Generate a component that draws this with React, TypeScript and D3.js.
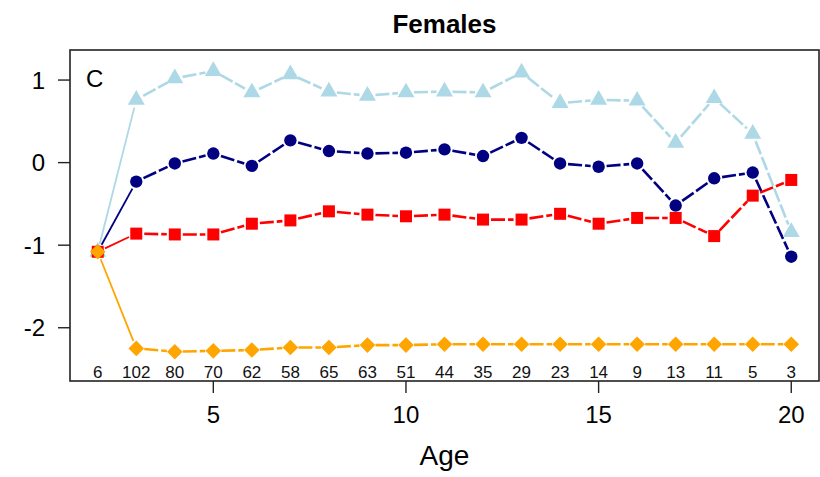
import React from "react";
import * as d3 from "d3";

const ages = [2, 3, 4, 5, 6, 7, 8, 9, 10, 11, 12, 13, 14, 15, 16, 17, 18, 19, 20];
const counts = ["6", "102", "80", "70", "62", "58", "65", "63", "51", "44", "35", "29", "23", "14", "9", "13", "11", "5", "3"];
const lightBlueValues = [-1.08, 0.76, 1.02, 1.11, 0.85, 1.07, 0.86, 0.81, 0.85, 0.86, 0.85, 1.09, 0.72, 0.76, 0.75, 0.24, 0.78, 0.35, -0.84];
const navyValues = [-1.08, -0.23, -0.01, 0.11, -0.04, 0.27, 0.14, 0.11, 0.12, 0.16, 0.08, 0.30, -0.01, -0.05, -0.01, -0.52, -0.19, -0.12, -1.14];
const redValues = [-1.08, -0.86, -0.87, -0.87, -0.74, -0.70, -0.59, -0.63, -0.65, -0.63, -0.69, -0.69, -0.62, -0.74, -0.67, -0.67, -0.89, -0.40, -0.21];
const orangeValues = [-1.08, -2.25, -2.29, -2.28, -2.27, -2.24, -2.24, -2.21, -2.21, -2.20, -2.20, -2.20, -2.20, -2.20, -2.20, -2.20, -2.20, -2.20, -2.20];
const xTicks = [5, 10, 15, 20];
const yTicks = [1, 0, -1, -2];

const W = 820;
const H = 477;
const L = 70, R = 819, T = 50, B = 381;
const FONT = "'Liberation Sans', Arial, sans-serif";

type Shape = "triangle" | "circle" | "square" | "diamond";
const series: { values: number[]; color: string; shape: Shape }[] = [
  { values: lightBlueValues, color: "#ADD8E6", shape: "triangle" },
  { values: navyValues, color: "#000080", shape: "circle" },
  { values: redValues, color: "#FF0000", shape: "square" },
  { values: orangeValues, color: "#FFA500", shape: "diamond" },
];

export default function App() {
  const x = d3.scaleLinear().domain([1.28, 20.72]).range([L, R]);
  const y = d3.scaleLinear().domain([-2.645, 1.364]).range([B, T]);
  const gap = 8;

  const marker = (shape: Shape, cx: number, cy: number, color: string, key: string) => {
    if (shape === "circle") return <circle key={key} cx={cx} cy={cy} r={6.2} fill={color} />;
    if (shape === "square") return <rect key={key} x={cx - 6} y={cy - 6} width={12} height={12} fill={color} />;
    if (shape === "triangle") {
      const s = d3.symbol().type(d3.symbolTriangle).size(125)();
      return <path key={key} d={s || ""} transform={`translate(${cx},${cy})`} fill={color} />;
    }
    return <path key={key} d={`M${cx},${cy - 7.8}L${cx + 7.8},${cy}L${cx},${cy + 7.8}L${cx - 7.8},${cy}Z`} fill={color} />;
  };

  return (
    <svg width={W} height={H} style={{ position: "absolute", left: 0, top: 0, background: "#fff" }} fontFamily={FONT}>
      <text x={(L + R) / 2} y={33} textAnchor="middle" fontSize={26} fontWeight="bold">Females</text>
      {series.map((s, si) => (
        <g key={si}>
          {s.values.slice(0, -1).map((v, i) => {
            const x1 = x(ages[i]), y1 = y(v), x2 = x(ages[i + 1]), y2 = y(s.values[i + 1]);
            const dx = x2 - x1, dy = y2 - y1;
            const len = Math.hypot(dx, dy);
            if (len <= 2 * gap) return null;
            const ux = dx / len, uy = dy / len;
            const first = i === 0;
            return (
              <line key={i} x1={x1 + ux * gap} y1={y1 + uy * gap} x2={x2 - ux * gap} y2={y2 - uy * gap}
                stroke={s.color} strokeWidth={first ? 1.8 : 2.6}
                strokeDasharray={first ? undefined : "14,3"} />
            );
          })}
        </g>
      ))}
      {series.map((s, si) => (
        <g key={"m" + si}>
          {s.values.map((v, i) => marker(s.shape, x(ages[i]), y(v), s.color, `${si}-${i}`))}
        </g>
      ))}
      {counts.map((c, i) => (
        <text key={"c" + i} x={x(ages[i])} y={378} textAnchor="middle" fontSize={17} fill="#111">{c}</text>
      ))}
      <text x={86} y={87} fontSize={24}>C</text>
      <rect x={L} y={T} width={R - L} height={B - T} fill="none" stroke="#222" strokeWidth={1.6} />
      {xTicks.map((t) => (
        <g key={"x" + t}>
          <line x1={x(t)} x2={x(t)} y1={B} y2={B + 12} stroke="#222" strokeWidth={1.4} />
          <text x={x(t)} y={423} textAnchor="middle" fontSize={24}>{t}</text>
        </g>
      ))}
      {yTicks.map((t) => (
        <g key={"y" + t}>
          <line x1={L} x2={L - 12} y1={y(t)} y2={y(t)} stroke="#222" strokeWidth={1.4} />
          <text x={45} y={y(t)} dy="0.36em" textAnchor="end" fontSize={24}>{t}</text>
        </g>
      ))}
      <text x={(L + R) / 2} y={465} textAnchor="middle" fontSize={28}>Age</text>
    </svg>
  );
}
